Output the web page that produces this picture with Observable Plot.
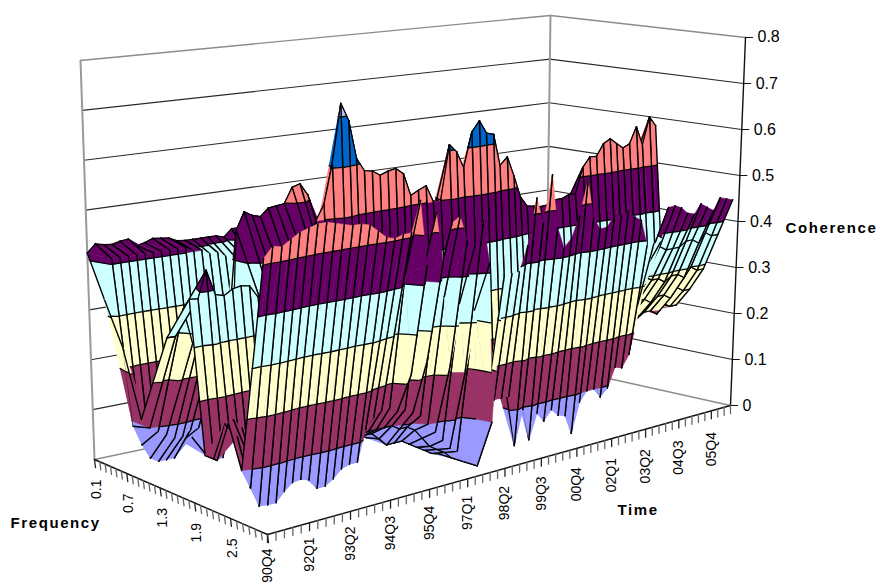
<!DOCTYPE html>
<html><head><meta charset="utf-8">
<script src="https://cdn.jsdelivr.net/npm/d3@7"></script>
<script src="https://cdn.jsdelivr.net/npm/@observablehq/plot@0.6"></script>
<style>
html,body{margin:0;padding:0;background:#fff;overflow:hidden}
.axis-title text{letter-spacing:1.6px}
</style></head><body><div id="chart"></div>
<script>
const timeLabels = ["90Q4","92Q1","93Q2","94Q3","95Q4","97Q1","98Q2","99Q3","00Q4","02Q1","03Q2","04Q3","05Q4"];
const freqLabels = ["0.1","0.7","1.3","1.9","2.5"];
const zTicks = [0,0.1,0.2,0.3,0.4,0.5,0.6,0.7,0.8];
const bandColors = ["#9999FF","#993366","#FFFFCC","#CCFFFF","#660066","#FF8080","#0066CC","#C0C0FF"];
const freqs = [0.1,0.4,0.7,1.0,1.5,1.9,2.1,2.3,2.5,2.7,2.9,3.1];

const f01 = [.414,.43,.426,.424,.428,.43,.414,.418,.424,.422,
 .42,.412,.41,.41,.41,.41,.41,.405,.42,.42,
 .41,.41,.42,.38,.38,.37,.37,.37,.36,.36,
 .35,.35,.35,.35,.34,.34,.34,.34,.34,.34,
 .34,.34,.34,.34,.34,.33,.33,.33,.33,.33,
 .33,.33,.33,.33,.33,.33,.33,.33,.33,.33,
 .33,.33,.33];
const f04 = [.33,.41,.41,.41,.41,.41,.41,.41,.41,.41,
 .41,.40,.40,.39,.39,.38,.38,.38,.37,.37,
 .36,.36,.35,.35,.34,.34,.33,.33,.33,.32,
 .32,.32,.31,.31,.31,.30,.30,.30,.30,.30,
 .30,.30,.30,.30,.30,.30,.30,.30,.31,.31,
 .31,.31,.31,.31,.32,.32,.32,.32,.32,.32,
 .33,.33,.33];
const f07 = [.25,.09,.05,.02,.01,.01,.01,.04,.05,.05,
 .02,.02,.05,.10,.10,.10,.10,.11,.11,.12,
 .12,.13,.12,.12,.13,.12,.12,.11,.10,.11,
 .12,.12,.13,.13,.12,.13,.14,.13,.13,.14,
 .14,.13,.14,.15,.14,.15,.15,.15,.16,.15,
 .16,.16,.17,.16,.17,.17,.18,.17,.18,.18,
 .18,.19,.18];
const f10 = [.12,.10,.09,.08,.07,.07,.08,.08,.02,.01,
 .01,.08,.46,.495,.485,.48,.495,.497,.499,.53,
 .535,.51,.46,.38,.32,.27,.24,.22,.20,.20,
 .20,.20,.21,.21,.21,.21,.22,.22,.22,.22,
 .22,.22,.22,.22,.23,.23,.23,.24,.24,.24,
 .24,.25,.25,.26,.26,.26,.27,.27,.27,.27,
 .28,.28,.28];
const f15 = [.30,.30,.35,.28,.30,.30,.30,.30,.30,.30,
 .30,.30,.30,.31,.32,.33,.33,.34,.35,.35,
 .34,.33,.33,.33,.32,.32,.31,.30,.29,.30,
 .30,.31,.35,.35,.35,.36,.36,.36,.36,.35,
 .35,.34,.34,.34,.34,.34,.35,.35,.35,.35,
 .35,.38,.40,.40,.41,.41,.41,.40,.41,.42,
 .41,.42,.42];
const f19 = [.39,.388,.44,.39,.385,.395,.398,.395,.37,.35,
 .35,.35,.35,.38,.40,.50,.53,.61,.727,.69,
 .612,.585,.582,.571,.577,.58,.567,.52,.528,.535,
 .50,.502,.612,.595,.56,.632,.653,.625,.62,.553,
 .568,.526,.479,.457,.454,.451,.452,.46,.46,.466,
 .465,.52,.54,.539,.564,.573,.56,.548,.555,.59,
 .548,.607,.586];
const f21 = [.10,.09,.10,.12,.12,.10,.09,.09,.08,.08,
 .08,.08,.08,.08,.08,.08,.08,.08,.07,.07,
 .06,.06,.05,.05,.05,.04,.03,.02,.01,.12,
 .12,.12,.13,.13,.13,.14,.14,.14,.14,.14,
 .14,.14,.14,.14,.15,.15,.15,.16,.16,.17,
 .19,.20,.19,.20,.19,.20,.20,.19,.20,.20,
 .19,.20,.20];
const f23 = [.10,.165,.17,.15,.10,.08,.07,.07,.07,.07,
 .07,.07,.07,.08,.08,.09,.10,.09,.08,.08,
 .066,.05,.05,.05,.04,.03,.02,.01,.005,.12,
 .12,.12,.14,.14,.14,.15,.15,.15,.15,.15,
 .15,.15,.15,.15,.15,.16,.15,.16,.16,.17,
 .20,.20,.20,.21,.20,.20,.19,.20,.20,.19,
 .21,.20,.20];
const f25 = [.18,.15,.12,.08,.06,.06,.06,.06,.06,.06,
 .06,.06,.06,.06,.07,.08,.10,.10,.10,.10,
 .10,.09,.09,.08,.06,.04,.03,.02,.005,.12,
 .12,.12,.14,.15,.15,.15,.15,.15,.15,.15,
 .15,.15,.15,.16,.15,.16,.16,.17,.17,.18,
 .22,.24,.24,.25,.24,.24,.23,.24,.24,.23,
 .25,.24,.24];
const f27 = [.10,.063,.025,.023,.023,.04,.053,.055,.05,.03,
 .03,.04,.055,.06,.06,.12,.14,.15,.15,.14,
 .14,.13,.12,.10,.08,.06,.04,.03,.005,.13,
 .13,.13,.15,.16,.16,.15,.16,.16,.15,.16,
 .15,.16,.16,.17,.16,.17,.17,.18,.18,.2,
 .24,.28,.29,.30,.29,.29,.28,.29,.29,.28,
 .30,.29,.29];
const f29 = [.30,.30,.28,.28,.29,.30,.31,.31,.30,.29,
 .29,.29,.30,.29,.28,.30,.32,.33,.42,.22,
 .40,.24,.38,.36,.22,.34,.20,.32,.005,.13,
 .13,.13,.13,.026,.095,.03,.08,.06,.08,.065,
 .06,.02,.08,.10,.10,.08,.095,.135,.13,.155,
 .255,.33,.37,.37,.36,.36,.36,.37,.37,.36,
 .38,.37,.37];
const f31 = [.514,.533,.529,.54,.55,.555,.56,.56,.555,.55,
 .545,.545,.54,.525,.51,.505,.51,.51,.57,.44,
 .54,.44,.515,.525,.475,.46,.505,.42,.10,.39,
 .39,.39,.44,.533,.48,.575,.465,.42,.437,.48,
 .55,.47,.445,.445,.467,.464,.47,.455,.445,.39,
 .39,.39,.461,.462,.455,.44,.435,.455,.445,.435,
 .46,.455,.45];
const surface = [f01,f04,f07,f10,f15,f19,f21,f23,f25,f27,f29,f31];

const W = 877, H = 582;
const tMax = 63, fMin = 0.1, fMax = 3.1, zMax = 0.8;

function homography(p00,p10,p11,p01){
  const [x0,y0]=p00,[x1,y1]=p10,[x2,y2]=p11,[x3,y3]=p01;
  const dx1=x1-x2,dx2=x3-x2,sx=x0-x1+x2-x3,dy1=y1-y2,dy2=y3-y2,sy=y0-y1+y2-y3;
  const d=dx1*dy2-dx2*dy1, g=(sx*dy2-dx2*sy)/d, h=(dx1*sy-sx*dy1)/d;
  const a=x1-x0+g*x1,b=x3-x0+h*x3,c=x0,e=y1-y0+g*y1,f=y3-y0+h*y3,i=y0;
  return (u,v)=>{const w=g*u+h*v+1;return [(a*u+b*v+c)/w,(e*u+f*v+i)/w];};
}
const floorH = homography([94,459],[545,364],[730,405],[267,534]);
const topH   = homography([80,60],[550,15],[745,37],[261,104]);
function proj(t,f,z){
  const u0=t/tMax, v0=(f-fMin)/(fMax-fMin), s=z/zMax;
  const u=0.831*u0/(1-0.169*u0), v=1.09*v0/(1+0.09*v0);
  const a=floorH(u,v), b=topH(u,v);
  return [a[0]+(b[0]-a[0])*s, a[1]+(b[1]-a[1])*s];
}

const pieces=[]; let pid=0;
function addPath(pts,fill,stroke,sw){
  const id=pid++;
  for(const p of pts){const [x,y]=proj(p[0],p[1],p[2]);pieces.push({id,x,y,fill,stroke,sw});}
}
function clip(poly,level,keepAbove){
  const out=[];
  for(let i=0;i<poly.length;i++){
    const a=poly[i],b=poly[(i+1)%poly.length];
    const ina=keepAbove?a[2]>=level:a[2]<=level, inb=keepAbove?b[2]>=level:b[2]<=level;
    if(ina) out.push(a);
    if(ina!==inb){const s=(level-a[2])/(b[2]-a[2]);out.push([a[0]+(b[0]-a[0])*s,a[1]+(b[1]-a[1])*s,level]);}
  }
  return out;
}
function tri(a,b,c){
  bandColors.forEach((col,i)=>{
    let p=clip([a,b,c],i*0.1,true); if(p.length<3) return;
    p=clip(p,(i+1)*0.1,false); if(p.length<3) return;
    addPath([...p,p[0]],col,col,0.5);
  });
  for(let i=1;i<bandColors.length;i++){
    const l=i*0.1, seg=[];
    [[a,b],[b,c],[c,a]].forEach(([m,n])=>{
      if((m[2]-l)*(n[2]-l)<0){const s=(l-m[2])/(n[2]-m[2]);seg.push([m[0]+(n[0]-m[0])*s,m[1]+(n[1]-m[1])*s,l]);}
    });
    if(seg.length===2) addPath(seg,"none","#000",1.3);
  }
}
function showF(k,t){
  const f=freqs[k];
  if(f===0.1) return true;
  if(f===1.9) return true;
  if(f===1.0) return t>=11&&t<=23;
  if(t>=50) return f>=2.1&&f<=2.9;
  if(t<=8) return f>=1.5&&f<=1.9;
  if(t>=15&&t<=28) return f>=2.1&&f<=2.5;
  return false;
}
const nT=f31.length;
for(let k=0;k<freqs.length-1;k++){
  for(let t=nT-2;t>=0;t--){
    const A=[t,freqs[k],surface[k][t]],B=[t+1,freqs[k],surface[k][t+1]],
          C=[t+1,freqs[k+1],surface[k+1][t+1]],D=[t,freqs[k+1],surface[k+1][t]];
    tri(A,B,C); tri(A,C,D);
    addPath([A,D],"none","#000",1.4);
    addPath([B,C],"none","#000",1.4);
    if(showF(k,t)) addPath([A,B],"none","#000",1.2);
    if(showF(k+1,t)) addPath([D,C],"none","#000",1.2);
  }
}

const frame=[]; let fid=0;
function seg(p,q,stroke,sw){const id=fid++;frame.push({id,x:p[0],y:p[1],stroke,sw},{id,x:q[0],y:q[1],stroke,sw});}
zTicks.forEach(z=>{
  const col=(z===0||z===0.8)?"#8c8c8c":"#2a2a2a", w=(z===0||z===0.8)?1.4:1.1;
  seg(proj(0,fMin,z),proj(tMax,fMin,z),col,w);
  seg(proj(tMax,fMin,z),proj(tMax,fMax,z),col,w);
});
seg(proj(0,fMin,0),proj(0,fMin,zMax),"#9a9a9a",2);
seg(proj(tMax,fMin,0),proj(tMax,fMin,zMax),"#9a9a9a",2);
const frontAxes=[];
function aseg(p,q,stroke,sw){const id=fid++;frontAxes.push({id,x:p[0],y:p[1],stroke,sw},{id,x:q[0],y:q[1],stroke,sw});}
aseg(proj(tMax,fMax,0),proj(tMax,fMax,zMax),"#111",1.4);
aseg(proj(0,fMin,0),proj(0,fMax,0),"#111",1.4);
aseg(proj(0,fMax,0),proj(tMax,fMax,0),"#111",1.4);
zTicks.forEach(z=>{const p=proj(tMax,fMax,z);aseg(p,[p[0]+7,p[1]],"#111",1.2);});
d3.range(0,tMax+1).forEach(t=>{const p=proj(t,fMax,0);aseg(p,[p[0],p[1]+8],t%5===0?"#222":"#666",1.3);});
d3.range(0,31).forEach(i=>{const p=proj(0,fMin+i*0.1,0);aseg(p,[p[0]+1,p[1]+8],i%6===0?"#222":"#666",1.3);});

const zText=zTicks.map(z=>{const p=proj(tMax,fMax,z);return {x:p[0]+12,y:p[1]+(z===0.8?-1:0),text:String(z)};});
const tText=timeLabels.map((s,i)=>{const p=proj(i*5,fMax,0);return {x:p[0],y:p[1]+14+i*0.6,text:s};});
const fText=freqLabels.map((s,i)=>{const p=proj(0,fMin+i*0.6,0);return {x:p[0]+2,y:p[1]+20,text:s};});
const titles=[{x:785,y:228,text:"Coherence"},{x:617,y:510,text:"Time"},{x:10,y:523,text:"Frequency"}];
const FONT="'Liberation Sans',Arial,sans-serif";

const chart=Plot.plot({
  width:W,height:H,margin:0,
  style:{background:"#fff",fontFamily:FONT},
  x:{domain:[0,W],range:[0,W],axis:null},
  y:{domain:[0,H],range:[0,H],axis:null},
  color:{type:"identity"},
  marks:[
    Plot.line(frame,{x:"x",y:"y",z:"id",stroke:"stroke",strokeWidth:"sw"}),
    Plot.line(frontAxes,{x:"x",y:"y",z:"id",stroke:"stroke",strokeWidth:"sw"}),
    Plot.line(pieces,{x:"x",y:"y",z:"id",fill:"fill",stroke:"stroke",strokeWidth:"sw",strokeLinejoin:"round",strokeLinecap:"round"}),
    Plot.text(zText,{x:"x",y:"y",text:"text",textAnchor:"start",fontSize:16,fill:"#000"}),
    Plot.text(tText,{x:"x",y:"y",text:"text",textAnchor:"end",rotate:-90,fontSize:14,fill:"#000"}),
    Plot.text(fText,{x:"x",y:"y",text:"text",textAnchor:"end",rotate:-90,fontSize:14,fill:"#000"}),
    Plot.text(titles,{x:"x",y:"y",text:"text",textAnchor:"start",fontSize:15,fontWeight:"bold",fill:"#000",className:"axis-title"})
  ]
});
document.getElementById("chart").appendChild(chart);
</script></body></html>
